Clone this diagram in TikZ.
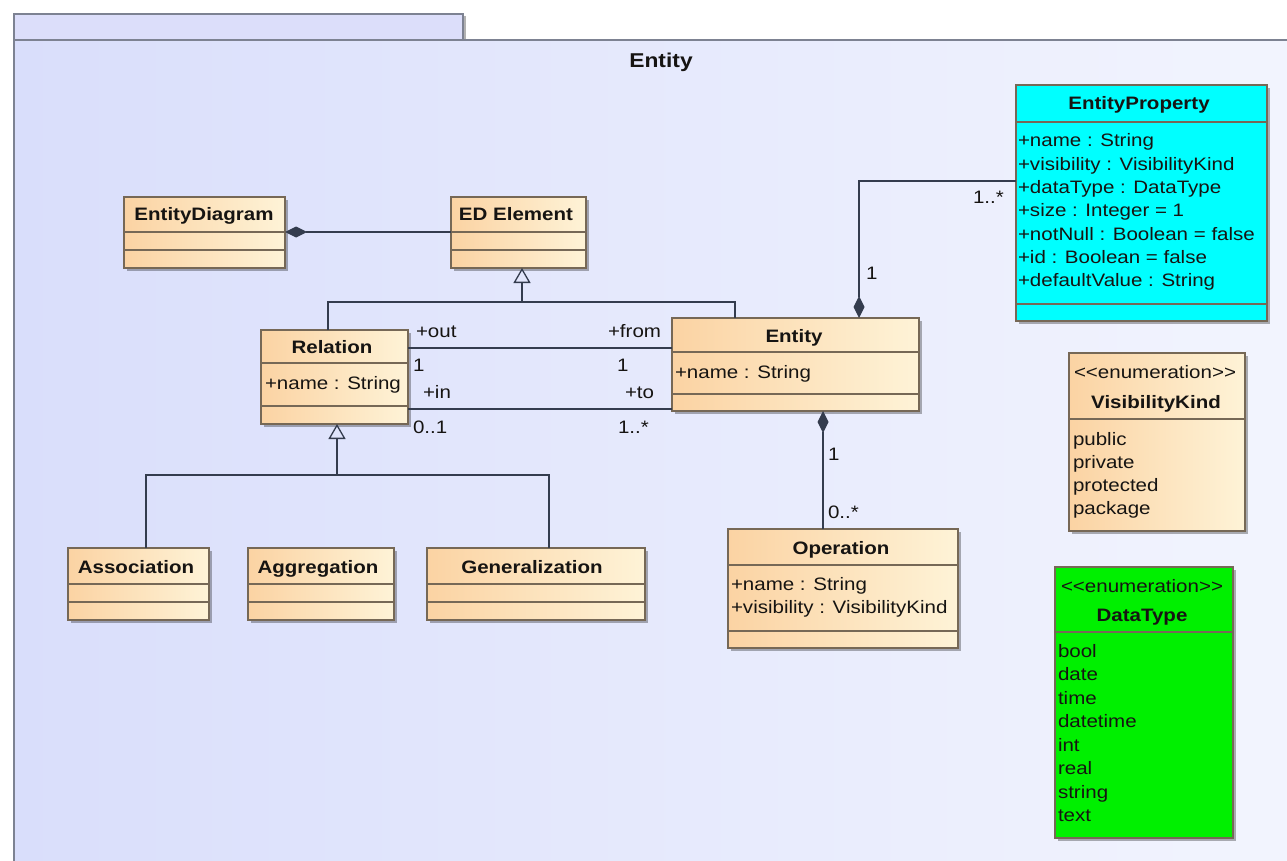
\documentclass[tikz,border=0pt]{standalone}
\usepackage{fontspec}
\setmainfont{Liberation Sans}[FakeStretch=1.14]
\usetikzlibrary{arrows.meta,shadows}

\definecolor{pkgL}{RGB}{217,222,251}
\definecolor{pkgR}{RGB}{243,245,254}
\definecolor{tabfill}{RGB}{220,222,250}
\definecolor{pkgline}{RGB}{125,130,146}
\definecolor{clsL}{RGB}{251,211,163}
\definecolor{clsR}{RGB}{254,243,215}
\definecolor{clsline}{RGB}{118,104,86}
\definecolor{conn}{RGB}{52,60,78}
\definecolor{cyanfill}{RGB}{0,255,255}
\definecolor{greenfill}{RGB}{0,240,0}
\definecolor{txt}{RGB}{22,20,18}

\newcommand\txtsize{\fontsize{18}{23.3}\selectfont}
% stereotype text, kept free of the << >> ligature
\newcommand\stereo[1]{<\kern0pt<#1>\kern0pt>}

\tikzset{
  base/.style={inner sep=0pt, outer sep=0pt},
  boxframe/.style={base, draw=clsline, line width=1.1pt, anchor=north west,
    drop shadow={shadow xshift=3pt, shadow yshift=-3pt, fill=black, opacity=0.3}},
  classbox/.style={boxframe, left color=clsL, right color=clsR},
  cyanbox/.style={boxframe, fill=cyanfill},
  greenbox/.style={boxframe, fill=greenfill},
  sepline/.style={draw=clsline, line width=1.1pt},
  title/.style={base, anchor=base, text=txt, font=\txtsize\bfseries},
  plain/.style={base, anchor=base, text=txt, font=\txtsize},
  attr/.style={base, anchor=base west, text=txt, font=\txtsize},
  lbl/.style={base, anchor=base west, text=txt, font=\txtsize},
  conn/.style={draw=conn, line width=1.3pt},
  comp/.style={conn, -{Diamond[length=22pt,width=11pt]}},
  gen/.style={conn, -{Triangle[open,length=15pt,width=17pt]}},
}

% class box: style, name, x1, y1, x2, y2
\newcommand\umlbox[6]{%
  \node[#1, minimum width={#5-#3}, minimum height={#6-#4}] (#2) at (#3,#4) {};}
% compartment line of a box at height y
\newcommand\compline[2]{\draw[sepline] (#1.west |- 0,#2) -- (#1.east |- 0,#2);}

\begin{document}
\begin{tikzpicture}[x=1pt, y=-1pt]
\useasboundingbox (0,0) rectangle (1287,861);
\clip (0,0) rectangle (1287,861);
\fill[white] (0,0) rectangle (1287,861);

% package frame with its tab
\node[base, draw=pkgline, line width=1.6pt, fill=tabfill, anchor=north west,
      minimum width=449, minimum height=26] (tab) at (14,14) {};
\draw[black!30, line width=1.6pt] (465,16) -- (465,40);
\node[base, draw=pkgline, line width=1.6pt, left color=pkgL, right color=pkgR,
      anchor=north west, minimum width=1300, minimum height=850] (pkg) at (14,40) {};
\node[title, font=\fontsize{20}{24}\selectfont\bfseries] (pkgname) at (661,68) {Entity};

% classes
\umlbox{classbox}{diag}{124}{197}{285}{268}
\compline{diag}{232}\compline{diag}{250}
\node[title] (diagname) at (204,221) {EntityDiagram};

\umlbox{classbox}{edel}{451}{197}{586}{268}
\compline{edel}{232}\compline{edel}{250}
\node[title] (edelname) at (516,221) {ED Element};

\umlbox{classbox}{rel}{261}{330}{408}{424}
\compline{rel}{363}\compline{rel}{406}
\node[title] (relname) at (332,353) {Relation};
\node[attr] (relattr) at (265,389) {+name : String};

\umlbox{classbox}{ent}{672}{318}{919}{411}
\compline{ent}{352}\compline{ent}{394}
\node[title] (entname) at (794,342) {Entity};
\node[attr] (entattr) at (675,378) {+name : String};

\umlbox{classbox}{oper}{728}{529}{958}{648}
\compline{oper}{565}\compline{oper}{631}
\node[title] (opername) at (841,554) {Operation};
\node[attr] (operattr1) at (731,590) {+name : String};
\node[attr] (operattr2) at (731,613) {+visibility : VisibilityKind};

\umlbox{classbox}{assoc}{68}{548}{209}{620}
\compline{assoc}{584}\compline{assoc}{602}
\node[title] (assocname) at (136,573) {Association};

\umlbox{classbox}{aggr}{248}{548}{394}{620}
\compline{aggr}{584}\compline{aggr}{602}
\node[title] (aggrname) at (318,573) {Aggregation};

\umlbox{classbox}{gener}{427}{548}{645}{620}
\compline{gener}{584}\compline{gener}{602}
\node[title] (genername) at (532,573) {Generalization};

\umlbox{cyanbox}{eprop}{1016}{85}{1267}{321}
\compline{eprop}{122}\compline{eprop}{304}
\node[title] (epropname) at (1139,110) {EntityProperty};
\foreach \t [count=\i] in {+name : String, +visibility : VisibilityKind,
    +dataType : DataType, +size : Integer = 1, +notNull : Boolean = false,
    +id : Boolean = false, +defaultValue : String}
  \node[attr] (eprop-\i) at (1018,{147+(\i-1)*23.3}) {\t};

% enumerations
\umlbox{classbox}{vis}{1069}{353}{1245}{531}
\compline{vis}{419}
\node[plain] (visstereo) at (1155,378) {\stereo{enumeration}};
\node[title] (visname) at (1156,408) {VisibilityKind};
\foreach \t [count=\i] in {public, private, protected, package}
  \node[attr] (vis-\i) at (1073,{445+(\i-1)*23.3}) {\t};

\umlbox{greenbox}{dtype}{1055}{567}{1233}{838}
\compline{dtype}{632}
\node[plain] (dtstereo) at (1142,592) {\stereo{enumeration}};
\node[title] (dtname) at (1142,621) {DataType};
\foreach \t [count=\i] in {bool, date, time, datetime, int, real, string, text}
  \node[attr] (dt-\i) at (1058,{657+(\i-1)*23.5}) {\t};

% compositions
\draw[comp] (edel.west |- 0,232) -- (diag.east |- 0,232);
\draw[comp] (oper.north -| 823,0) -- (ent.south -| 823,0);
\draw[comp] (eprop.west |- 0,181) -| (ent.north -| 859,0);

% generalizations
\coordinate (j1) at (522,302);
\draw[conn] (rel.north -| 328,0) |- (j1) -| (ent.north -| 735,0);
\draw[gen] (j1) -- (edel.south -| j1);
\coordinate (j2) at (337,475);
\draw[conn] (assoc.north -| 146,0) |- (j2) -| (gener.north -| 549,0);
\draw[conn] (aggr.north -| 319,0) -- (aggr.north -| 319,0 |- j2);
\draw[gen] (j2) -- (rel.south -| j2);

% associations between Relation and Entity
\draw[conn] (rel.east |- 0,348) -- (ent.west |- 0,348);
\draw[conn] (rel.east |- 0,409) -- (ent.west |- 0,409);

% association end labels
\node[lbl] (l-out) at (416,337) {+out};
\node[lbl] (l-from) at (608,337) {+from};
\node[lbl] (l-m1) at (413,371) {1};
\node[lbl] (l-m2) at (617,371) {1};
\node[lbl] (l-in) at (423,398) {+in};
\node[lbl] (l-to) at (625,398) {+to};
\node[lbl] (l-m3) at (413,433) {0..1};
\node[lbl] (l-m4) at (618,433) {1..*};
\node[lbl] (l-m5) at (866,279) {1};
\node[lbl] (l-m6) at (973,204) {1..*};
\node[lbl] (l-m7) at (828,460) {1};
\node[lbl] (l-m8) at (828,518) {0..*};
\end{tikzpicture}
\end{document}
